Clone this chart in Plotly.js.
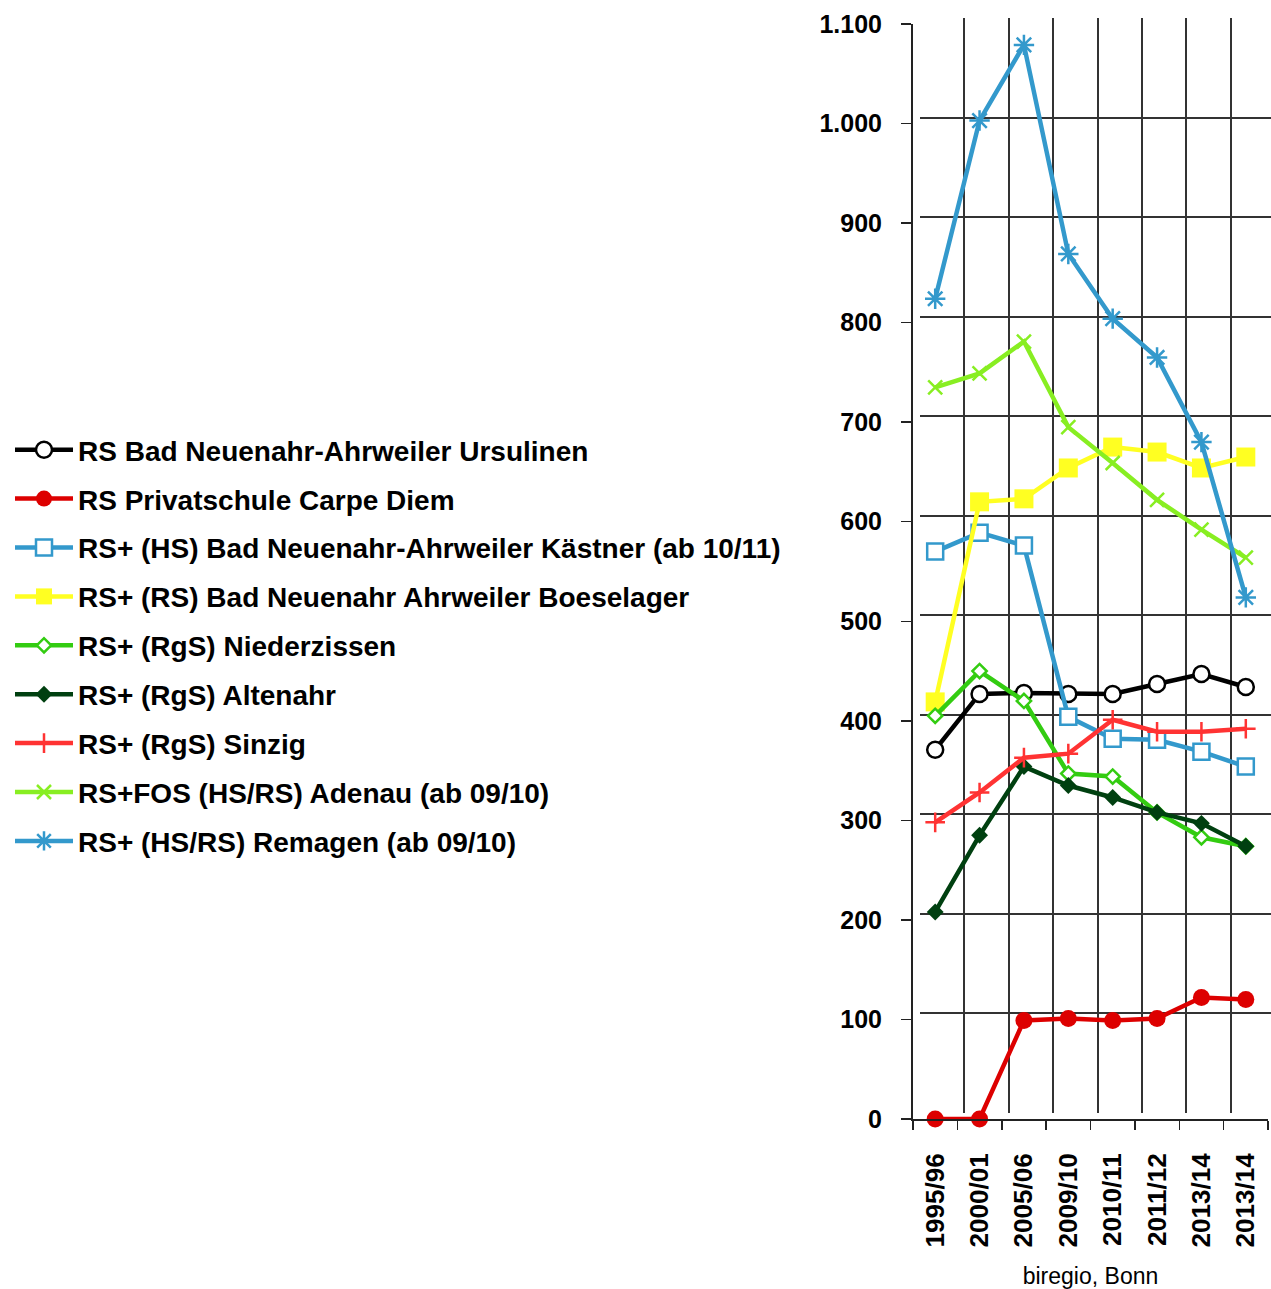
<!DOCTYPE html>
<html>
<head>
<meta charset="utf-8">
<script src="https://cdn.plot.ly/plotly-3.0.1.min.js"></script>
<style>
html,body{margin:0;padding:0;background:#fff;}
#chart{width:1271px;height:1289px;}
</style>
</head>
<body>
<div id="chart"></div>
<script>
// ---- data ----
const categories = ["1995/96","2000/01","2005/06","2009/10","2010/11","2011/12","2013/14","2013/14"];
const ursulinen   = [371, 427, 428, 427, 427, 437, 447, 434];
const carpeDiem   = [0, 0, 99, 101, 99, 101, 122, 120];
const kaestner    = [570, 589, 576, 404, 382, 381, 369, 354];
const boeselager  = [419, 620, 623, 654, 675, 670, 654, 665];
const niederzissen= [405, 450, 420, 347, 344, 308, 283, 274];
const altenahr    = [208, 285, 354, 335, 323, 308, 297, 274];
const sinzig      = [298, 328, 363, 367, 401, 389, 389, 392];
const adenau      = [735, 749, 781, 695, 659, 622, 592, 564];
const remagen     = [824, 1003, 1079, 869, 804, 765, 680, 524];

const seriesNames = [
  "RS Bad Neuenahr-Ahrweiler Ursulinen",
  "RS Privatschule Carpe Diem",
  "RS+ (HS) Bad Neuenahr-Ahrweiler Kästner (ab 10/11)",
  "RS+ (RS) Bad Neuenahr Ahrweiler Boeselager",
  "RS+ (RgS) Niederzissen",
  "RS+ (RgS) Altenahr",
  "RS+ (RgS) Sinzig",
  "RS+FOS (HS/RS) Adenau (ab 09/10)",
  "RS+ (HS/RS) Remagen (ab 09/10)"
];
const axisNote = "biregio, Bonn";

// ---- build ----
const W = 1271, H = 1289;
const FONT = "Liberation Sans, Arial, sans-serif";
const xs = categories.map((_, i) => i);
const boundaries = categories.map((_, i) => i - 0.5).concat([categories.length - 0.5]);

const styles = [
  {color:"#000000", marker:{symbol:"circle", size:16, color:"#ffffff", line:{color:"#000000", width:2.5}}},
  {color:"#dd0000", marker:{symbol:"circle", size:17, color:"#dd0000", line:{width:0}}},
  {color:"#3399cc", marker:{symbol:"square", size:16, color:"#ffffff", line:{color:"#3399cc", width:2.5}}},
  {color:"#ffff22", marker:{symbol:"square", size:19, color:"#ffff22", line:{width:0}}},
  {color:"#33cc11", marker:{symbol:"diamond", size:11, color:"#ffffff", line:{color:"#33cc11", width:2.5}}},
  {color:"#004010", marker:{symbol:"diamond", size:13, color:"#004010", line:{width:0}}},
  {color:"#ff3333", marker:{symbol:"cross-thin", size:14, color:"#ff3333", line:{color:"#ff3333", width:2.5}}},
  {color:"#88ee22", marker:{symbol:"x-thin", size:14, color:"#88ee22", line:{color:"#88ee22", width:2.5}}},
  {color:"#3399cc", marker:{symbol:"asterisk", size:17, color:"#3399cc", line:{color:"#3399cc", width:2.5}}}
];
const values = [ursulinen, carpeDiem, kaestner, boeselager, niederzissen, altenahr, sinzig, adenau, remagen];

// back-wall grid subplot (x/y), data subplot (x2/y2)
const traces = [{
  x: xs, y: xs.map(() => null), xaxis: "x", yaxis: "y",
  mode: "lines", showlegend: false, hoverinfo: "skip"
}];
values.forEach((v, i) => {
  traces.push({
    x: xs, y: v, name: seriesNames[i], type: "scatter", mode: "lines+markers",
    xaxis: "x2", yaxis: "y2",
    legendgroup: "g" + i, cliponaxis: false,
    line: {color: styles[i].color, width: 4.5},
    marker: styles[i].marker
  });
});

const px = (p) => p / W;
const py = (p) => 1 - p / H;
const xL = 913, xR = 1268, yB = 1119, yT = 24, dx = 7, dy = 6;
const unit = (xR - xL) / categories.length;

const layout = {
  width: W, height: H,
  margin: {l: 0, r: 0, t: 0, b: 0},
  paper_bgcolor: "#ffffff", plot_bgcolor: "rgba(0,0,0,0)",
  separators: ",.",
  font: {family: FONT, color: "#000"},
  showlegend: true,
  legend: {
    x: px(10), y: py(425), xanchor: "left", yanchor: "top",
    font: {size: 28, family: FONT, weight: "bold", color: "#000"},
    traceorder: "grouped", tracegroupgap: 9.5, itemwidth: 58,
    bgcolor: "rgba(0,0,0,0)"
  },
  // back wall
  xaxis: {
    anchor: "y",
    domain: [px(xL + dx), 1], range: [-0.5, -0.5 + (W - xL - dx) / unit],
    tickmode: "array", tickvals: boundaries, showticklabels: false, ticks: "",
    showgrid: true, gridcolor: "#333", gridwidth: 2, showline: false, zeroline: false, fixedrange: true
  },
  yaxis: {
    anchor: "x",
    domain: [py(yB - dy), py(yT - dy)], range: [0, 1100], dtick: 100, tick0: 0,
    showticklabels: false, ticks: "",
    showgrid: true, gridcolor: "#333", gridwidth: 2, showline: false, zeroline: false, fixedrange: true
  },
  // front axes with data
  xaxis2: {
    anchor: "y2",
    domain: [px(xL), px(xR)], range: [-0.5, categories.length - 0.5],
    tickmode: "array", tickvals: xs, ticktext: categories,
    tickangle: -90, ticks: "", ticklen: 0,
    minor: {tickmode: "linear", tick0: -0.5, dtick: 1, ticks: "outside", ticklen: 9,
            tickwidth: 1.5, tickcolor: "#222", showgrid: false},
    showline: true, linecolor: "#222", linewidth: 2, showgrid: false, zeroline: false,
    ticklabelstandoff: 22,
    tickfont: {size: 26, weight: "bold", family: FONT},
    title: {text: axisNote, font: {size: 23, family: FONT}, standoff: 26},
    fixedrange: true
  },
  yaxis2: {
    anchor: "x2",
    domain: [py(yB), py(yT)], range: [0, 1100], dtick: 100, tick0: 0,
    ticks: "outside", ticklen: 10, tickwidth: 1.5, tickcolor: "#222",
    showline: true, linecolor: "#222", linewidth: 2, showgrid: false, zeroline: false,
    separatethousands: true, ticklabelstandoff: 14,
    tickfont: {size: 25, weight: "bold", family: FONT},
    fixedrange: true
  }
};

Plotly.newPlot("chart", traces, layout, {displayModeBar: false, staticPlot: true});
</script>
</body>
</html>
